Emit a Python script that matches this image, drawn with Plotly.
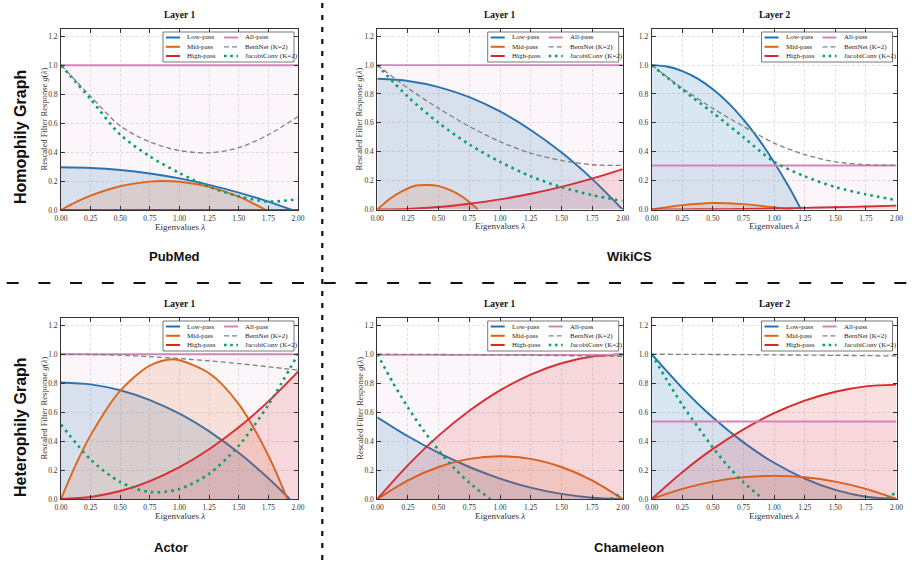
import plotly.graph_objects as go

W, H = 914, 567

# ---------------- data ----------------
LAM = [0.0, 0.25, 0.5, 0.75, 1.0, 1.25, 1.5, 1.75, 2.0]
X_TICKS = [0.0, 0.25, 0.5, 0.75, 1.0, 1.25, 1.5, 1.75, 2.0]
Y_TICKS = [0.0, 0.2, 0.4, 0.6, 0.8, 1.0, 1.2]
SERIES_NAMES = ["Low-pass", "Mid-pass", "High-pass", "All-pass", "BernNet (K=2)", "JacobiConv (K=2)"]

# PubMed, layer 1
pub_low_x = [0.0, 0.25, 0.5, 0.75, 1.0, 1.25, 1.5, 1.75, 1.95]
pub_low_y = [0.295, 0.290, 0.276, 0.252, 0.218, 0.174, 0.120, 0.058, 0.0]
pub_mid_x = [0.0, 0.125, 0.25, 0.5, 0.75, 0.87, 1.0, 1.25, 1.5, 1.73]
pub_mid_y = [0.0, 0.054, 0.099, 0.164, 0.196, 0.200, 0.195, 0.160, 0.092, 0.0]
pub_high_y = [0.0, 0.0, 0.0, 0.0, 0.0, 0.0, 0.0, 0.0, 0.0]
pub_all_y = [1.0, 1.0, 1.0, 1.0, 1.0, 1.0, 1.0, 1.0, 1.0]
pub_bern_y = [1.0, 0.785, 0.58, 0.47, 0.41, 0.395, 0.43, 0.52, 0.645]
pub_jac_y = [1.0, 0.765, 0.52, 0.37, 0.255, 0.16, 0.095, 0.058, 0.075]

# WikiCS, layer 1
wl1_low_y = [0.905, 0.89, 0.848, 0.778, 0.679, 0.551, 0.396, 0.212, 0.0]
wl1_mid_x = [0.0, 0.1, 0.2, 0.3, 0.41, 0.5, 0.6, 0.7, 0.82]
wl1_mid_y = [0.0, 0.073, 0.125, 0.163, 0.170, 0.162, 0.133, 0.085, 0.0]
wl1_high_y = [0.0, 0.004, 0.017, 0.04, 0.07, 0.109, 0.157, 0.214, 0.28]
wl1_all_y = [1.0, 1.0, 1.0, 1.0, 1.0, 1.0, 1.0, 1.0, 1.0]
wl1_bern_y = [1.0, 0.84, 0.70, 0.575, 0.47, 0.39, 0.34, 0.31, 0.305]
wl1_jac_y = [1.0, 0.78, 0.60, 0.45, 0.33, 0.23, 0.155, 0.10, 0.06]

# WikiCS, layer 2
wl2_low_x = [0.0, 0.125, 0.25, 0.375, 0.5, 0.625, 0.75, 0.875, 1.0, 1.125, 1.22]
wl2_low_y = [1.0, 0.99, 0.958, 0.906, 0.832, 0.738, 0.622, 0.486, 0.328, 0.150, 0.0]
wl2_mid_x = [0.0, 0.25, 0.5, 0.75, 1.0, 1.15]
wl2_mid_y = [0.0, 0.03, 0.045, 0.037, 0.015, 0.0]
wl2_high_y = [0.0, 0.001, 0.002, 0.004, 0.007, 0.011, 0.016, 0.021, 0.027]
wl2_all_y = [0.305, 0.305, 0.305, 0.305, 0.305, 0.305, 0.305, 0.305, 0.305]
wl2_bern_y = [1.0, 0.84, 0.70, 0.575, 0.46, 0.38, 0.33, 0.31, 0.305]
wl2_jac_y = [1.0, 0.83, 0.67, 0.50, 0.33, 0.23, 0.155, 0.105, 0.065]

# Actor, layer 1
act_low_x = [0.0, 0.25, 0.5, 0.75, 1.0, 1.25, 1.5, 1.75, 1.93]
act_low_y = [0.805, 0.792, 0.751, 0.683, 0.589, 0.467, 0.319, 0.143, 0.0]
act_mid_x = [0.0, 0.125, 0.25, 0.5, 0.75, 0.95, 1.25, 1.5, 1.75, 1.91]
act_mid_y = [0.0, 0.237, 0.441, 0.749, 0.922, 0.965, 0.869, 0.655, 0.30, 0.0]
act_high_y = [0.0, 0.014, 0.055, 0.124, 0.22, 0.344, 0.495, 0.674, 0.88]
act_all_y = [1.0, 1.0, 1.0, 1.0, 1.0, 1.0, 1.0, 1.0, 1.0]
act_bern_y = [1.0, 0.998, 0.993, 0.983, 0.97, 0.954, 0.935, 0.913, 0.89]
act_jac_y = [0.515, 0.272, 0.117, 0.048, 0.069, 0.174, 0.368, 0.65, 1.0]

# Chameleon, layer 1
ch1_low_y = [0.565, 0.433, 0.318, 0.221, 0.141, 0.079, 0.035, 0.009, 0.0]
ch1_mid_y = [0.0, 0.129, 0.221, 0.277, 0.295, 0.277, 0.221, 0.129, 0.0]
ch1_high_y = [0.0, 0.234, 0.4375, 0.609, 0.75, 0.859, 0.9375, 0.984, 1.0]
ch1_all_y = [0.995, 0.995, 0.995, 0.995, 0.995, 0.995, 0.995, 0.995, 0.995]
ch1_bern_y = [1.0, 0.999, 0.998, 0.997, 0.995, 0.993, 0.99, 0.988, 0.985]
ch1_jac_x = [0.0, 0.125, 0.25, 0.375, 0.5, 0.625, 0.75, 0.92, 1.4, 1.9, 2.0]
ch1_jac_y = [1.0, 0.807, 0.632, 0.475, 0.336, 0.215, 0.112, 0.0, None, 0.0, 0.045]

# Chameleon, layer 2
ch2_low_y = [1.0, 0.766, 0.5625, 0.391, 0.25, 0.141, 0.0625, 0.0156, 0.0]
ch2_mid_y = [0.0, 0.07, 0.12, 0.15, 0.16, 0.15, 0.12, 0.07, 0.0]
ch2_high_y = [0.0, 0.185, 0.346, 0.481, 0.5925, 0.679, 0.741, 0.778, 0.79]
ch2_all_y = [0.535, 0.535, 0.535, 0.535, 0.535, 0.535, 0.535, 0.535, 0.535]
ch2_bern_y = [1.0, 0.999, 0.998, 0.997, 0.995, 0.994, 0.992, 0.99, 0.988]
ch2_jac_x = [0.0, 0.125, 0.25, 0.375, 0.5, 0.625, 0.75, 0.91, 1.4, 1.92, 2.0]
ch2_jac_y = [1.0, 0.82, 0.65, 0.50, 0.355, 0.225, 0.115, 0.0, None, 0.0, 0.05]

# ---------------- styles ----------------
LINE_COL = {
    "Low-pass": "#1f72b2",
    "Mid-pass": "#dc6511",
    "High-pass": "#d8282a",
    "All-pass": "#d385bb",
    "BernNet (K=2)": "#808080",
    "JacobiConv (K=2)": "#0b9e70",
}
FILL_COL = {
    "Low-pass": "rgba(31,114,178,0.17)",
    "Mid-pass": "rgba(220,101,17,0.15)",
    "High-pass": "rgba(216,40,42,0.15)",
    "All-pass": "rgba(211,133,187,0.07)",
}
SERIF = "Liberation Serif, Times New Roman, serif"
SANS = "Liberation Sans, Arial, sans-serif"

# panel boxes in pixels: (left, top, right, bottom)
panels = [
    dict(title="Layer 1", box=(61, 29, 298, 210), ytitle=True,
         data=[(pub_low_x, pub_low_y), (pub_mid_x, pub_mid_y), (LAM, pub_high_y),
               (LAM, pub_all_y), (LAM, pub_bern_y), (LAM, pub_jac_y)]),
    dict(title="Layer 1", box=(377.3, 29, 622.7, 209.5), ytitle=True,
         data=[(LAM, wl1_low_y), (wl1_mid_x, wl1_mid_y), (LAM, wl1_high_y),
               (LAM, wl1_all_y), (LAM, wl1_bern_y), (LAM, wl1_jac_y)]),
    dict(title="Layer 2", box=(651.7, 29, 896.5, 209.5), ytitle=False,
         data=[(wl2_low_x, wl2_low_y), (wl2_mid_x, wl2_mid_y), (LAM, wl2_high_y),
               (LAM, wl2_all_y), (LAM, wl2_bern_y), (LAM, wl2_jac_y)]),
    dict(title="Layer 1", box=(61, 318, 298, 499), ytitle=True,
         data=[(act_low_x, act_low_y), (act_mid_x, act_mid_y), (LAM, act_high_y),
               (LAM, act_all_y), (LAM, act_bern_y), (LAM, act_jac_y)]),
    dict(title="Layer 1", box=(377.3, 318, 622.7, 499), ytitle=True,
         data=[(LAM, ch1_low_y), (LAM, ch1_mid_y), (LAM, ch1_high_y),
               (LAM, ch1_all_y), (LAM, ch1_bern_y), (ch1_jac_x, ch1_jac_y)]),
    dict(title="Layer 2", box=(651.7, 318, 896.5, 499), ytitle=False,
         data=[(LAM, ch2_low_y), (LAM, ch2_mid_y), (LAM, ch2_high_y),
               (LAM, ch2_all_y), (LAM, ch2_bern_y), (ch2_jac_x, ch2_jac_y)]),
]

fig = go.Figure()
shapes = []
annotations = []

for i, p in enumerate(panels, start=1):
    sfx = "" if i == 1 else str(i)
    xa, ya = "x" + sfx, "y" + sfx
    L, T, R, B = p["box"]
    pw, ph = R - L, B - T

    for name, (xs, ys) in zip(SERIES_NAMES, p["data"]):
        kw = dict(x=xs, y=ys, xaxis=xa, yaxis=ya, mode="lines", showlegend=False,
                  name=name, hoverinfo="skip")
        if name in FILL_COL:
            tr = go.Scatter(**kw, fill="tozeroy", fillcolor=FILL_COL[name],
                            line=dict(color=LINE_COL[name], width=1.9, shape="spline", smoothing=0.8))
        elif name.startswith("BernNet"):
            tr = go.Scatter(**kw, line=dict(color=LINE_COL[name], width=1.3, dash="5px,3px",
                                            shape="spline", smoothing=0.8))
        else:
            tr = go.Scatter(**kw, line=dict(color=LINE_COL[name], width=2.6, dash="2.6px,4.2px",
                                            shape="spline", smoothing=0.8))
        fig.add_trace(tr)

    axis_common = dict(showline=True, linecolor="#333333", linewidth=1, mirror="allticks",
                       ticks="inside", ticklen=4, tickwidth=1, tickcolor="#333333",
                       showgrid=True, gridcolor="#e2e2e2", gridwidth=0.7, griddash="3px,2px",
                       zeroline=False, tickfont=dict(family=SERIF, size=7.5, color="#333333"),
                       fixedrange=True, automargin=False)
    fig.update_layout(**{
        "xaxis" + sfx: dict(axis_common, domain=[L / W, R / W], anchor=ya, range=[0, 2],
                            tickvals=X_TICKS, ticktext=[f"{v:.2f}" for v in X_TICKS],
                            ticklabelstandoff=1),
        "yaxis" + sfx: dict(axis_common, domain=[1 - B / H, 1 - T / H], anchor=xa, range=[0, 1.25],
                            tickvals=Y_TICKS, ticktext=[f"{v:.1f}" for v in Y_TICKS],
                            ticklabelstandoff=1),
    })

    # panel title
    annotations.append(dict(text="<b>" + p["title"] + "</b>", x=(L + R) / 2 / W, y=1 - (T - 14) / H,
                            xref="paper", yref="paper", showarrow=False, xanchor="center",
                            yanchor="middle", font=dict(family=SERIF, size=9.5, color="#111")))
    # x title
    annotations.append(dict(text="Eigenvalues <i>λ</i>", x=(L + R) / 2 / W, y=1 - (B + 16.5) / H,
                            xref="paper", yref="paper", showarrow=False, xanchor="center",
                            yanchor="middle", font=dict(family=SERIF, size=9, color="#333")))
    if p["ytitle"]:
        annotations.append(dict(text="Rescaled Filter Response <i>g</i>(<i>λ</i>)", x=(L - 18) / W,
                                y=1 - (T + B) / 2 / H, xref="paper", yref="paper", showarrow=False,
                                textangle=-90, xanchor="center", yanchor="middle",
                                font=dict(family=SERIF, size=8.6, color="#333")))

    # legend (drawn inside the panel, top-right)
    dref_x, dref_y = xa + " domain", ya + " domain"
    fx = lambda off: 1 - off / pw
    fy = lambda off: 1 - off / ph
    shapes.append(dict(type="rect", xref=dref_x, yref=dref_y, x0=fx(135), x1=fx(4), y0=fy(33), y1=fy(3),
                       fillcolor="rgba(255,255,255,0.9)", line=dict(color="#555555", width=0.8), layer="above"))
    rows = [8.5, 17.8, 27]
    cols = [(132, 118, 113), (74, 60, 55)]
    for k, name in enumerate(SERIES_NAMES):
        c, r = divmod(k, 3)
        lx0, lx1, tx = cols[c]
        ry = rows[r]
        if name in FILL_COL:
            ln = dict(color=LINE_COL[name], width=2)
        elif name.startswith("BernNet"):
            ln = dict(color=LINE_COL[name], width=1.3, dash="5px,3px")
        else:
            ln = dict(color=LINE_COL[name], width=2.6, dash="2.6px,3.6px")
        shapes.append(dict(type="line", xref=dref_x, yref=dref_y, x0=fx(lx0), x1=fx(lx1),
                           y0=fy(ry), y1=fy(ry), line=ln, layer="above"))
        annotations.append(dict(text=name, xref=dref_x, yref=dref_y, x=fx(tx), y=fy(ry),
                                showarrow=False, xanchor="left", yanchor="middle",
                                font=dict(family=SERIF, size=7, color="#222")))

# dataset and row labels
GROUP_LABELS = [("PubMed", 174, 256), ("WikiCS", 629, 257), ("Actor", 171, 547), ("Chameleon", 629, 547)]
for txt, gx, gy in GROUP_LABELS:
    annotations.append(dict(text="<b>" + txt + "</b>", x=gx / W, y=1 - gy / H, xref="paper", yref="paper",
                            showarrow=False, xanchor="center", yanchor="middle",
                            font=dict(family=SANS, size=13, color="#111")))
ROW_LABELS = [("Homophily Graph", 21, 137), ("Heterophily Graph", 20, 427)]
for txt, rx, ry in ROW_LABELS:
    annotations.append(dict(text="<b>" + txt + "</b>", x=rx / W, y=1 - ry / H, xref="paper", yref="paper",
                            showarrow=False, textangle=-90, xanchor="center", yanchor="middle",
                            font=dict(family=SANS, size=16, color="#111")))

# separators
shapes.append(dict(type="line", xref="paper", yref="paper", x0=322.3 / W, x1=322.3 / W, y0=1 - 3 / H, y1=0,
                   line=dict(color="#111111", width=2.2, dash="5px,7px"), layer="above"))
shapes.append(dict(type="line", xref="paper", yref="paper", x0=6.7 / W, x1=1, y0=1 - 283 / H, y1=1 - 283 / H,
                   line=dict(color="#111111", width=2.2, dash="12px,19.7px"), layer="above"))

fig.update_layout(width=W, height=H, margin=dict(l=0, r=0, t=0, b=0), paper_bgcolor="white",
                  plot_bgcolor="white", shapes=shapes, annotations=annotations, showlegend=False)

fig.write_html("out.html")
